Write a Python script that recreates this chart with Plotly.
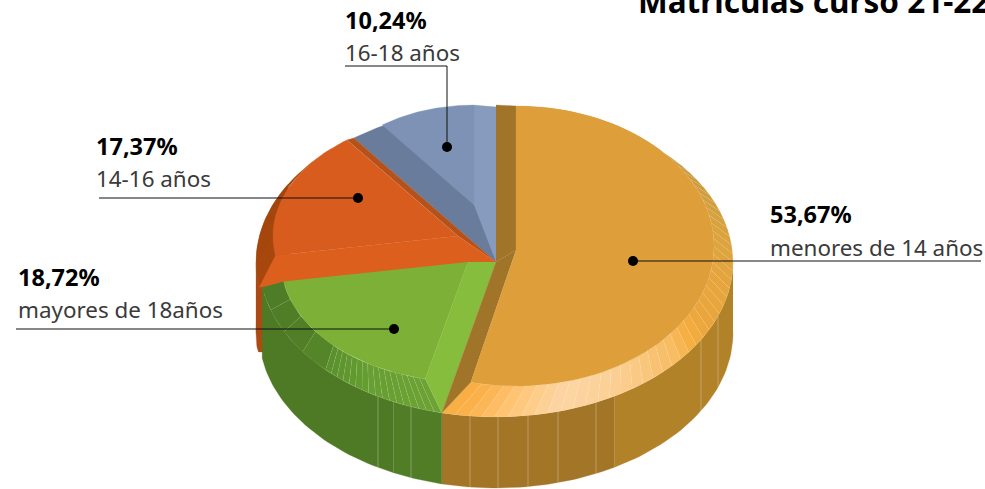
import numpy as np
import plotly.graph_objects as go

# ---- data ----
CATEGORIES = ["menores de 14 años", "mayores de 18años", "14-16 años", "16-18 años"]
SHARES = [53.67, 18.72, 17.37, 10.24]
LABELS = ["53,67%", "18,72%", "17,37%", "10,24%"]
TITLE = "Matrículas curso 21-22"

# ---- geometry / style ----
C, CY, RX, RY, DEPTH = 496, 262, 237, 155, 71
TOPS = {  # raised face ellipse of each slice: cx, cy, rx, ry
    "orange": (516, 246, 198, 140),
    "green": (468, 262, 187, 120),
    "red": (458, 236, 185, 120),
    "blue": (474, 205, 153, 100),
}
ORANGE_APEX = (516, 250)
RED_WALL_BOTTOM = 352
FONT = "Noto Sans"
edges = np.concatenate([[0], np.cumsum(SHARES)]) * 3.6
A0, A1, A2, A3, A4 = edges


def pt(e, a):
    t = np.radians(a)
    return e[0] + e[2] * np.sin(t), e[1] - e[3] * np.cos(t)


OUT = (C, CY, RX, RY)
OUT_RED = (C - 3, CY, RX, RY)
fig = go.Figure()


def poly(xs, ys, color, line=None, lw=0):
    fig.add_trace(go.Scatter(x=list(xs), y=list(ys), mode="lines", fill="toself", fillcolor=color,
                             line=dict(color=line or color, width=lw if line else 0.3),
                             hoverinfo="skip", showlegend=False))


def arc(e, a, b, n=40):
    return pt(e, np.linspace(a, b, n))


def lerp(stops, a):
    ang = [s[0] for s in stops]
    rgb = np.array([[int(s[1][i:i + 2], 16) for i in (1, 3, 5)] for s in stops])
    return "rgb(%d,%d,%d)" % tuple(np.interp(a, ang, rgb[:, k]) for k in range(3))


def wall(a, b, color, e=OUT, ymax=None):
    x1, y1 = arc(e, a, b)
    low = y1[::-1] + DEPTH
    if ymax is not None:
        low = np.minimum(low, ymax)
    poly(np.r_[x1, x1[::-1]], np.r_[y1, low], color)


def bevel(e, a, b, n, stops, seam="rgba(255,255,255,0.22)", out=OUT):
    g = np.linspace(a, b, n + 1)
    for p, q in zip(g[:-1], g[1:]):
        xo, yo = arc(out, p, q, 5)
        xi, yi = arc(e, q, p, 5)
        poly(np.r_[xo, xi], np.r_[yo, yi], lerp(stops, (p + q) / 2), seam, 0.5)


def wall_line(x, color="rgba(255,255,255,0.28)"):
    t = np.sqrt(1 - ((x - C) / RX) ** 2)
    y = CY + RY * t
    fig.add_trace(go.Scatter(x=[x, x], y=[y, y + DEPTH], mode="lines", line=dict(color=color, width=1),
                             hoverinfo="skip", showlegend=False))


# walls
wall(A2 - 20, 270, "#ad4a14", OUT_RED, RED_WALL_BOTTOM)
wall(270, 300, "#ad4a14", OUT_RED, RED_WALL_BOTTOM)
wall(A0 + 90, 150, "#b28229")
wall(150, A1, "#a27527")
wall(A1, A2 - 55, "#527d27")
wall(A2 - 55, A2, "#4f7a25")
for x in [470, 498, 528, 558, 596, 701, 718]:
    wall_line(x)
for x in [378, 411]:
    wall_line(x)

# blue slice
bx, by = arc(OUT, A3, A4)
poly(np.r_[C, bx], np.r_[CY, by], "#6a7c9b")
top = TOPS["blue"]
apx, apy = top[0], top[1]
tx, ty = arc(top, A3, A4)
poly(np.r_[apx, tx], np.r_[apy, ty], "#7d92b4")
ox, oy = pt(OUT, A4)
poly([apx, apx, ox, C], [apy, apy - top[3], oy, CY], "#869bbd")

# red slice
top = TOPS["red"]
apx, apy = top[0], top[1]
bevel(top, A2 - 1, A3, 7, [(A2, "#a8480f"), (A3, "#9a4208")], "rgba(255,255,255,0.08)", OUT_RED)
sx, sy = pt(OUT, A3)
ix, iy = pt(top, A3)
poly([ix, sx, C, apx], [iy, sy, CY, apy], "#b5521c")
tx, ty = arc(top, A2, A3)
poly(np.r_[apx, tx], np.r_[apy, ty], "#d85c1e")
sx, sy = pt(OUT_RED, A2)
ix, iy = pt(top, A2)
poly([apx, ix, sx, C], [apy, iy, sy, CY], "#dd5f1e")

# green slice
top = TOPS["green"]
apx, apy = top[0], top[1]
GREEN_SPLIT = 226
bevel(top, A1, GREEN_SPLIT, 17, [(A1, "#6ea335"), (212, "#679f32"), (GREEN_SPLIT, "#5b912c")],
      "rgba(255,255,255,0.25)")
bevel(top, GREEN_SPLIT, A2, 4, [(GREEN_SPLIT, "#568a2a"), (240, "#517f27"), (A2, "#4f7d27")],
      "rgba(150,170,90,0.12)")
tx, ty = arc(top, A1, A2)
poly(np.r_[apx, tx], np.r_[apy, ty], "#7cb037")
sx, sy = pt(OUT, A1)
ix, iy = pt(top, A1)
poly([C, sx, ix, apx], [CY, sy, iy, apy], "#87bd3d")

# orange slice
top = TOPS["orange"]
apx, apy = ORANGE_APEX
bevel(top, A0, A1, 60, [(0, "#b8893a"), (45, "#c3963f"), (80, "#d9a33f"), (100, "#e6a63e"),
                        (116, "#eba73d"), (123, "#f6ae3f"), (130, "#f8bc62"), (150, "#fcd095"),
                        (165, "#fdd6a4"), (178, "#ffc676"), (187, "#fdb24e"), (A1, "#f8ae40")],
      "rgba(255,255,255,0.15)")
sx, sy = pt(OUT, A1)
ix, iy = pt(top, A1)
poly([C, sx, ix, apx], [CY, sy, iy, apy], "#a0752a")
ox, oy = pt(OUT, A0)
poly([ox, apx, apx, C], [oy - 2, top[1] - top[3], apy, CY], "#a0752a")
tx, ty = arc(top, A0, A1, 80)
poly(np.r_[apx, tx], np.r_[apy, ty], "#de9e39")

# leaders
LEADER_X = [[633, 981], [394, 16], [358, 99], [447, 447, 345]]
LEADER_Y = [[261, 261], [329, 329], [198, 198], [147, 66, 66]]
for lx, ly in zip(LEADER_X, LEADER_Y):
    fig.add_trace(go.Scatter(x=lx, y=ly, mode="lines", line=dict(color="#111111", width=1),
                             hoverinfo="skip", showlegend=False))
    fig.add_trace(go.Scatter(x=lx[:1], y=ly[:1], mode="markers", marker=dict(color="#000000", size=10),
                             hoverinfo="skip", showlegend=False))

# labels
LABEL_X = [770, 18, 96, 345]
PCT_Y = [214, 277, 146, 20]
NAME_Y = [247, 309, 178, 52]
for name, pct, x, y1, y2 in zip(CATEGORIES, LABELS, LABEL_X, PCT_Y, NAME_Y):
    fig.add_annotation(x=x, y=y1, text="<b>%s</b>" % pct, showarrow=False, xanchor="left", yanchor="middle",
                       xshift=-2, font=dict(family=FONT, size=23.5, color="#000000"))
    fig.add_annotation(x=x, y=y2, text=name, showarrow=False, xanchor="left", yanchor="middle",
                       xshift=-2, font=dict(family=FONT, size=22.4, color="#3a3a3a"))
fig.add_annotation(x=636, y=13, text="<b>%s</b>" % TITLE, showarrow=False, xanchor="left", yanchor="bottom",
                   yshift=-11, font=dict(family=FONT, size=31.5, color="#000000"))

fig.update_layout(width=985, height=489, margin=dict(l=0, r=0, t=0, b=0), autosize=False,
                  paper_bgcolor="white", plot_bgcolor="white", showlegend=False,
                  xaxis=dict(range=[0, 985], visible=False, fixedrange=True),
                  yaxis=dict(range=[489, 0], visible=False, fixedrange=True))
fig.write_html("out.html", config={"displayModeBar": False},
               post_script="document.body.style.margin='0';document.body.style.overflow='hidden';")
